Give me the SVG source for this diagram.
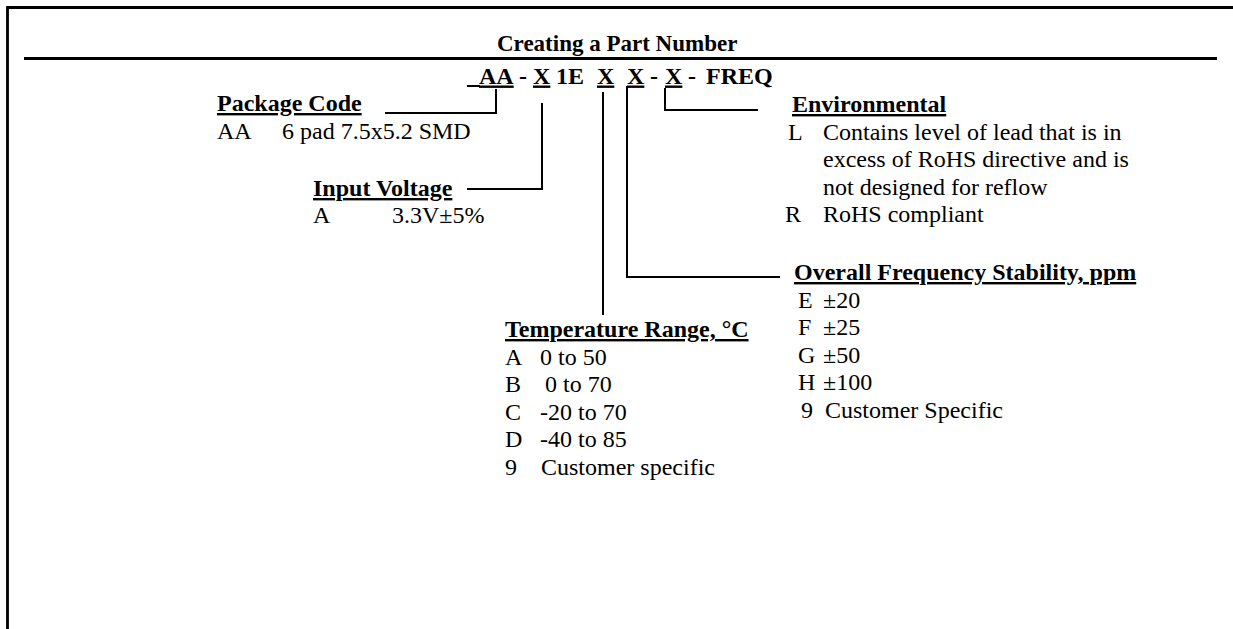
<svg xmlns="http://www.w3.org/2000/svg" width="1233" height="629" viewBox="0 0 1233 629">
<style>
text{font-family:"Liberation Serif","Times New Roman",serif;font-size:24px;fill:#000}
.b{font-weight:bold}
.u{text-decoration:underline}
.c{fill:none;stroke:#000;stroke-width:2}
.frame{fill:none;stroke:#000;stroke-width:2.8}
</style>
<rect width="1233" height="629" fill="#fff"/>
<g id="frame">
<polyline class="frame" points="7.5,629 7.5,7.5 1233,7.5"/>
<line class="frame" x1="24" y1="58.5" x2="1217" y2="58.5"/>
</g>
<g id="title">
<text class="b" x="497" y="51" style="font-size:23px">Creating a Part Number</text>
</g>
<g id="part-number">
<line x1="467" y1="86" x2="480" y2="86" stroke="#000" stroke-width="2"/>
<text class="b u" x="479" y="83.5">AA</text>
<text class="b" x="519" y="83.5">-</text>
<text class="b u" x="533" y="83.5">X</text>
<text class="b" x="556" y="83.5">1E</text>
<text class="b u" x="597" y="83.5">X</text>
<text class="b u" x="627" y="83.5">X</text>
<text class="b" x="650" y="83.5">-</text>
<text class="b u" x="665" y="83.5">X</text>
<text class="b" x="688" y="83.5">-</text>
<text class="b" x="706" y="83.5">FREQ</text>
</g>
<g id="connectors">
<polyline class="c" points="385,113 496,113 496,89"/>
<polyline class="c" points="467,189 542,189 542,103"/>
<line class="c" x1="603" y1="92" x2="603" y2="315"/>
<polyline class="c" points="627,86 627,277 780,277"/>
<polyline class="c" points="665,88 665,110 758,110"/>
</g>
<g id="package-code">
<text class="b u" x="217" y="111">Package Code</text>
<text x="217" y="139">AA</text>
<text x="282" y="139">6 pad 7.5x5.2 SMD</text>
</g>
<g id="input-voltage">
<text class="b u" x="313" y="196">Input Voltage</text>
<text x="313" y="223">A</text>
<text x="392" y="223">3.3V±5%</text>
</g>
<g id="environmental">
<text class="b u" x="792" y="112">Environmental</text>
<text x="788" y="139.5">L</text>
<text x="823" y="139.5">Contains level of lead that is in</text>
<text x="823" y="167">excess of RoHS directive and is</text>
<text x="823" y="194.5">not designed for reflow</text>
<text x="785" y="222">R</text>
<text x="823" y="222">RoHS compliant</text>
</g>
<g id="frequency-stability">
<text class="b u" x="794" y="280">Overall Frequency Stability, ppm</text>
<text x="798" y="307.5">E</text>
<text x="823" y="307.5">±20</text>
<text x="798" y="335">F</text>
<text x="823" y="335">±25</text>
<text x="798" y="362.5">G</text>
<text x="823" y="362.5">±50</text>
<text x="798" y="390">H</text>
<text x="823" y="390">±100</text>
<text x="801" y="418">9</text>
<text x="825" y="418">Customer Specific</text>
</g>
<g id="temperature-range">
<text class="b u" x="505" y="337">Temperature Range, °C</text>
<text x="505" y="364.5">A</text>
<text x="540" y="364.5">0 to 50</text>
<text x="505" y="392">B</text>
<text x="545" y="392">0 to 70</text>
<text x="505" y="419.5">C</text>
<text x="540" y="419.5">-20 to 70</text>
<text x="505" y="447">D</text>
<text x="540" y="447">-40 to 85</text>
<text x="505" y="475">9</text>
<text x="541" y="475">Customer specific</text>
</g>
</svg>
